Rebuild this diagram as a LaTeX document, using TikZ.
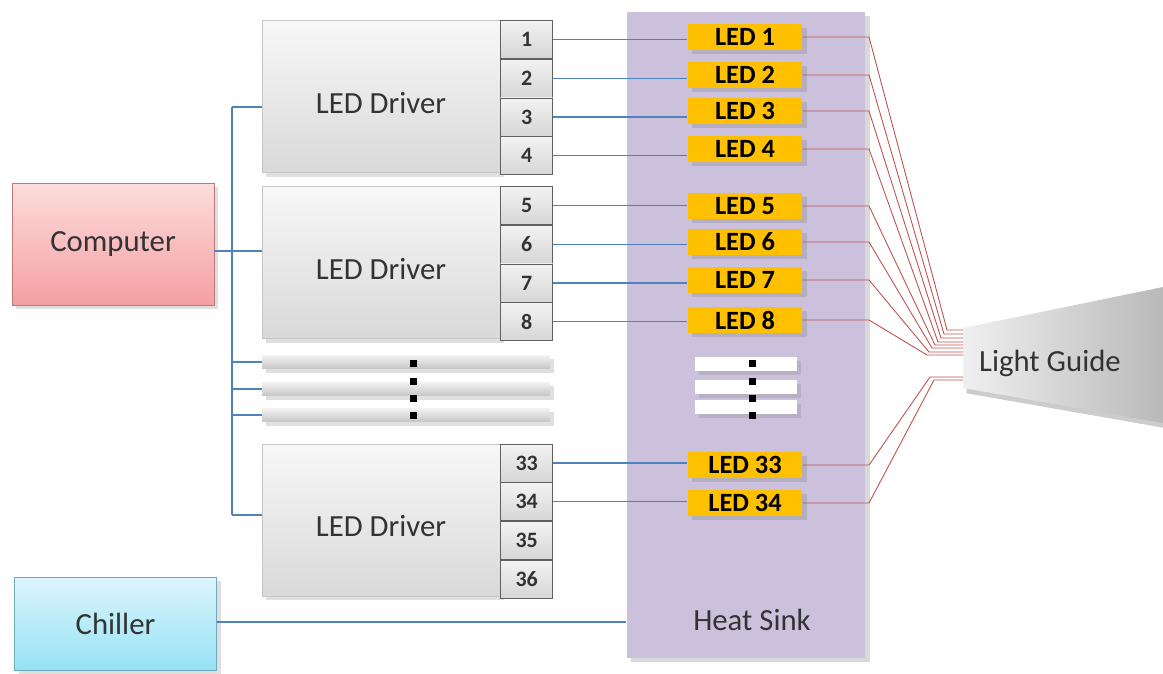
\documentclass[tikz,border=0pt]{standalone}
\usepackage{fontspec}
\setmainfont{Carlito}
\usetikzlibrary{positioning, shadows}
\definecolor{sink_lilac}{RGB}{204,193,220}
\definecolor{led_amber}{RGB}{255,192,0}
\definecolor{wire_blue}{RGB}{79,129,189}
\definecolor{fiber_red}{RGB}{192,80,77}
\definecolor{pc_top}{RGB}{253,220,220}
\definecolor{pc_bot}{RGB}{244,160,162}
\definecolor{pc_edge}{RGB}{190,120,120}
\definecolor{ch_top}{RGB}{220,245,252}
\definecolor{ch_bot}{RGB}{150,226,246}
\definecolor{ch_edge}{RGB}{110,170,190}

\begin{document}
\begin{tikzpicture}[x=0.02cm, y=-0.02cm,
        every node/.style={font=\fontsize{17.5}{20}\selectfont, text=black!80},
        box/.style={draw, minimum width=4.04cm, align=center, drop shadow={opacity=0.25}},
        driver/.style={draw=gray!45, top color=gray!6, bottom color=gray!30, minimum width=4.76cm, minimum height=3.04cm, text height=19pt, text depth=0pt, drop shadow={opacity=0.25}},
        port/.style={draw=gray!75!black, top color=gray!10, bottom color=gray!32, minimum width=1.04cm, minimum height=0.76cm, inner sep=0pt, font=\fontsize{12.5}{14}\bfseries\selectfont},
        led/.style={fill=led_amber, minimum width=2.3cm, minimum height=0.52cm, inner sep=0pt, font=\fontsize{15}{17}\bfseries\selectfont, text=black, drop shadow={opacity=0.3}},
        gap/.style={minimum height=0.27cm, inner sep=0pt, drop shadow={opacity=0.25}},
        dot/.style={fill=black, minimum size=0.14cm, inner sep=0pt},
        wire/.style={draw=wire_blue, line width=0.7pt},
        fiber/.style={draw=fiber_red, line width=0.5pt}
    ]
    \useasboundingbox (0,0) rectangle (1163,673);

    % heat sink and LEDs
    \node[fill=sink_lilac, minimum width=4.78cm, minimum height=12.92cm, drop shadow={opacity=0.3}] (hs) at (746,335) {};
    \node (hslbl) at (752,620) {Heat Sink};
    \node[led] (L1) at (745,37) {LED 1};
    \node[led] (L2) at (745,75) {LED 2};
    \node[led] (L3) at (745,111) {LED 3};
    \node[led] (L4) at (745,149) {LED 4};
    \node[led] (L5) at (745,206) {LED 5};
    \node[led] (L6) at (745,242) {LED 6};
    \node[led] (L7) at (745,280) {LED 7};
    \node[led] (L8) at (745,320) {LED 8};
    \node[led] (L33) at (745,465) {LED 33};
    \node[led] (L34) at (745,503) {LED 34};
    \node[gap, fill=white, minimum width=2.04cm] (hg1) at (746,364) {};
    \node[gap, fill=white, minimum width=2.04cm] (hg2) at (746,387) {};
    \node[gap, fill=white, minimum width=2.04cm] (hg3) at (746,407) {};
    \foreach \y [count=\i] in {363,381,398,415}
        \node[dot] (hd\i) at (752,\y) {};

    % drivers
    \node[driver] (D1) at (381,96.5) {LED Driver};
    \node[port, anchor=north west] (p1) at (D1.north east) {1};
    \node[port, below=0pt of p1] (p2) {2};
    \node[port, below=0pt of p2] (p3) {3};
    \node[port, below=0pt of p3] (p4) {4};

    \node[driver] (D2) at (381,262.5) {LED Driver};
    \node[port, anchor=north west] (p5) at (D2.north east) {5};
    \node[port, below=0pt of p5] (p6) {6};
    \node[port, below=0pt of p6] (p7) {7};
    \node[port, below=0pt of p7] (p8) {8};

    \node[driver] (D3) at (381,520) {LED Driver};
    \node[port, anchor=north west] (p33) at (D3.north east) {33};
    \node[port, below=0pt of p33] (p34) {34};
    \node[port, below=0pt of p34] (p35) {35};
    \node[port, below=0pt of p35] (p36) {36};

    \node[gap, top color=gray!10, bottom color=gray!45, minimum width=5.76cm] (dg1) at (406,362) {};
    \node[gap, top color=gray!10, bottom color=gray!45, minimum width=5.76cm] (dg2) at (406,389) {};
    \node[gap, top color=gray!10, bottom color=gray!45, minimum width=5.76cm] (dg3) at (406,415) {};
    \foreach \y [count=\i] in {363,381,398,415}
        \node[dot] (dd\i) at (413,\y) {};

    % computer, chiller
    \node[box, draw=pc_edge, top color=pc_top, bottom color=pc_bot, minimum height=2.44cm] (pc) at (113,244) {Computer};
    \node[box, draw=ch_edge, top color=ch_top, bottom color=ch_bot, minimum width=4.04cm, minimum height=1.86cm] (chill) at (115.5,623.5) {Chiller};

    % light guide
    \coordinate (lgA) at (963,328);
    \coordinate (lgB) at (1163,287);
    \coordinate (lgC) at (1163,423);
    \coordinate (lgD) at (963,388);
    \fill[black, opacity=0.2] ([shift={(2pt,-3pt)}]lgA) -- ([shift={(2pt,-3pt)}]lgB) -- ([shift={(2pt,-3pt)}]lgC) -- ([shift={(2pt,-3pt)}]lgD) -- cycle;
    \shade[left color=gray!12, right color=gray!55] (lgA) -- (lgB) -- (lgC) -- (lgD) -- cycle;
    \node (lg) at (1050,363) {Light Guide};

    % control bus
    \coordinate (bustop) at (232,107);
    \coordinate (busmid) at (232,251);
    \coordinate (busbot) at (232,515);
    \draw[wire] (bustop) -- (busbot);
    \draw[wire] (bustop) -- (bustop -| D1.west);
    \draw[wire] (busmid -| pc.east) -- (busmid -| D2.west);
    \draw[wire] (busbot) -- (busbot -| D3.west);
    \draw[wire] (dg1.west -| bustop) -- (dg1.west);
    \draw[wire] (dg2.west -| bustop) -- (dg2.west);
    \draw[wire] (dg3.west -| bustop) -- (dg3.west);
    \draw[wire] (chill.east |- 0,622) -- (hs.west |- 0,622);

    % driver outputs
    \foreach \n in {1,...,8,33,34}
        \draw[wire] (p\n.east) -- (p\n.east -| L\n.west);

    % fibers into the guide
    \foreach \n/\ex/\ey in {1/947/330, 2/944/334, 3/941/338, 4/938/342, 5/935/345, 6/932/348, 7/929/352, 8/927/355, 33/930/377, 34/934/380} {
        \coordinate (f\n) at (963,\ey);
        \draw[fiber] (L\n.east) -- (L\n.east -| 869,0) -- ([xshift={(\ex-963)*0.02cm}]f\n) -- (f\n);
    }
\end{tikzpicture}
\end{document}
